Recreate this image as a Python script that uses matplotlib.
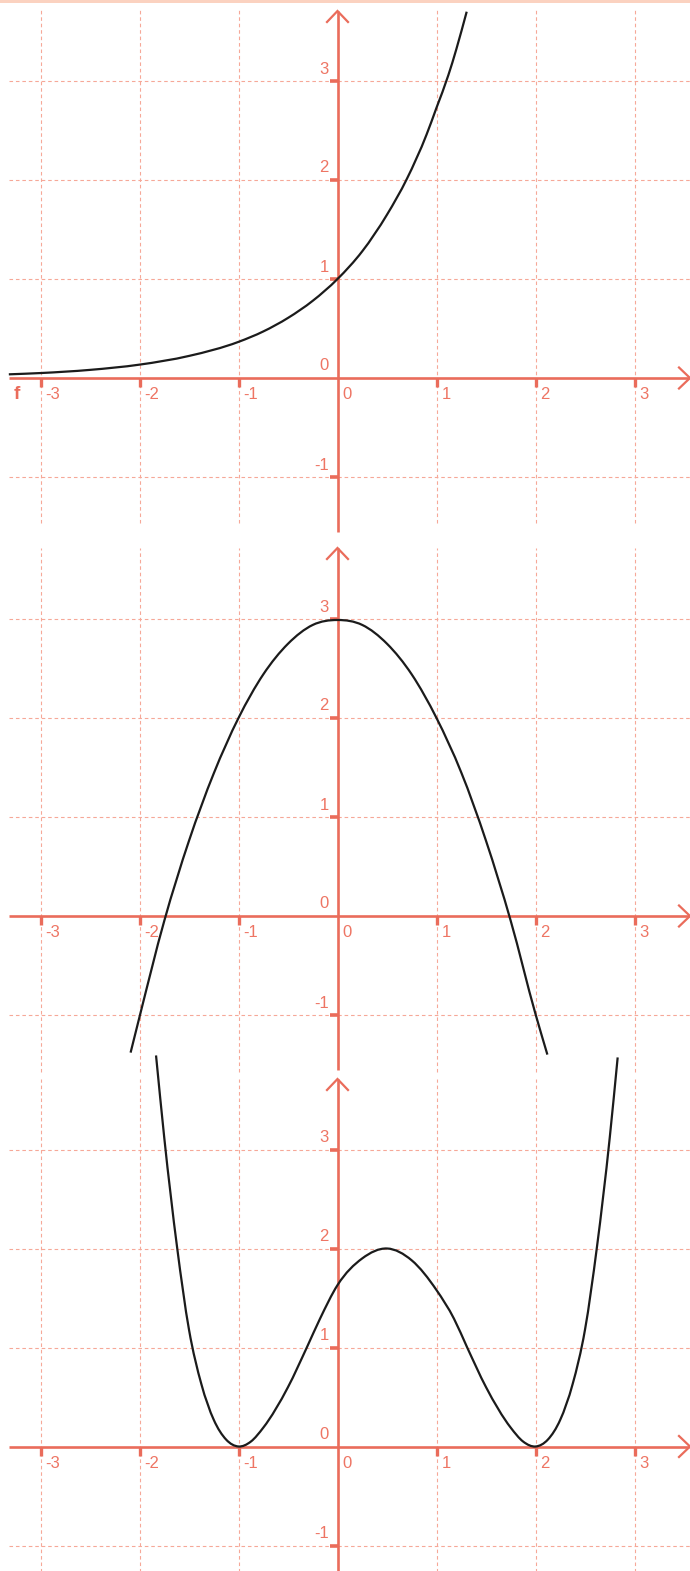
import numpy as np
import matplotlib
matplotlib.use("Agg")
import matplotlib.pyplot as plt
from matplotlib.path import Path
from matplotlib.patches import PathPatch, Rectangle

# ---------------- data ----------------
ticks_x = [-3, -2, -1, 0, 1, 2, 3]
ticks_y = [-1, 0, 1, 2, 3]
tick_labels_x = ["-3", "-2", "-1", "0", "1", "2", "3"]
tick_labels_y = ["-1", "0", "1", "2", "3"]

f1_x = [-3.32, -3.0, -2.5, -2.0, -1.5, -1.0, -0.75, -0.5, -0.25, 0.0, 0.25, 0.5, 0.7, 0.9, 1.0, 1.12, 1.2, 1.305]
f1_y = [0.037, 0.05, 0.082, 0.135, 0.223, 0.365, 0.47, 0.607, 0.78, 1.0, 1.28, 1.65, 2.01, 2.46, 2.73, 3.06, 3.32, 3.70]

f2_x = [-2.09, -2.0, -1.75, -1.5, -1.25, -1.0, -0.75, -0.5, -0.25, 0.0, 0.25, 0.5, 0.75, 1.0, 1.25, 1.5, 1.75, 2.0, 2.12]
f2_y = [-1.38, -1.02, -0.05, 0.76, 1.44, 2.0, 2.44, 2.75, 2.94, 2.99, 2.94, 2.75, 2.44, 2.0, 1.45, 0.76, -0.05, -0.99, -1.40]

f3_x = [-1.833, -1.75, -1.62, -1.5, -1.375, -1.25, -1.125, -1.0, -0.875, -0.75, -0.5, -0.31, -0.177, 0.0, 0.25,
        0.5, 0.75, 1.0, 1.177, 1.31, 1.5, 1.75, 1.875, 2.0, 2.125, 2.25, 2.375, 2.5, 2.62, 2.75, 2.83]
f3_y = [3.95, 3.12, 2.01, 1.18, 0.63, 0.27, 0.07, 0.0, 0.05, 0.19, 0.60, 1.0, 1.29, 1.63, 1.90,
        2.0, 1.88, 1.58, 1.29, 1.0, 0.60, 0.19, 0.05, 0.0, 0.07, 0.27, 0.63, 1.18, 2.01, 3.12, 3.93]

curve_label = "f"

# ---------------- layout / style ----------------
W, H = 690, 1571
S = 99.0          # pixels per unit
X0 = 337.5        # pixel column of x = 0
AX_C = "#ea6c5b"
LBL_C = "#ee7564"
GRID_C = "#f6a898"
CURVE_C = "#1b1b1b"
FONT = "Liberation Sans"

fig = plt.figure(figsize=(W / 100, H / 100), dpi=100)


def smooth_path(xs, ys):
    """Cubic Hermite (in x) through the read points, as Bezier segments."""
    x = np.asarray(xs, float)
    y = np.asarray(ys, float)
    n = len(x)
    m = np.zeros(n)
    m[0] = (y[1] - y[0]) / (x[1] - x[0])
    m[-1] = (y[-1] - y[-2]) / (x[-1] - x[-2])
    for i in range(1, n - 1):
        d0 = (y[i] - y[i - 1]) / (x[i] - x[i - 1])
        d1 = (y[i + 1] - y[i]) / (x[i + 1] - x[i])
        h0 = x[i] - x[i - 1]
        h1 = x[i + 1] - x[i]
        m[i] = (d0 * h1 + d1 * h0) / (h0 + h1)
    verts = [(x[0], y[0])]
    codes = [Path.MOVETO]
    for i in range(n - 1):
        h = x[i + 1] - x[i]
        verts += [(x[i] + h / 3, y[i] + m[i] * h / 3),
                  (x[i + 1] - h / 3, y[i + 1] - m[i + 1] * h / 3),
                  (x[i + 1], y[i + 1])]
        codes += [Path.CURVE4] * 3
    return Path(verts, codes)


def panel(top, bottom, y0, grid_top, grid_bot, axis_top, axis_bot, xs, ys, label=None):
    ax = fig.add_axes([0, 1 - bottom / H, 1, (bottom - top) / H])
    ax.set_xlim(-X0 / S, (W - X0) / S)
    ax.set_ylim((y0 - bottom) / S, (y0 - top) / S)
    ax.axis("off")
    gy_top = (y0 - grid_top) / S
    gy_bot = (y0 - grid_bot) / S
    ay_top = (y0 - axis_top) / S
    ay_bot = (y0 - axis_bot) / S
    x_left = (9 - X0) / S
    x_right = (W - X0) / S
    ls = (0, (3.2, 2.6))
    for tk in ticks_x:
        if tk != 0:
            ax.plot([tk, tk], [gy_bot, gy_top], color=GRID_C, lw=0.8, ls=ls, zorder=1)
    for tk in ticks_y:
        if tk != 0:
            ax.plot([x_left, x_right], [tk, tk], color=GRID_C, lw=0.8, ls=ls, zorder=1)
    # axes lines
    ax.plot([x_left, x_right - 1 / S], [0, 0], color=AX_C, lw=1.9, zorder=3,
            solid_capstyle="butt")
    ax.plot([0, 0], [ay_bot, ay_top], color=AX_C, lw=1.9, zorder=3,
            solid_capstyle="butt")
    # arrow heads (open chevrons)
    ah = 10.5 / S
    ax.plot([-ah, 0, ah], [ay_top - 11 / S, ay_top, ay_top - 11 / S], color=AX_C, lw=1.6,
            zorder=3, solid_joinstyle="miter", clip_on=False)
    ax.plot([x_right - 11 / S, x_right, x_right - 11 / S], [ah, 0, -ah], color=AX_C, lw=1.6,
            zorder=3, solid_joinstyle="miter", clip_on=False)
    # tick marks
    for tk in ticks_x:
        if tk != 0:
            ax.plot([tk, tk], [0, -9 / S], color=AX_C, lw=2.4, zorder=3, solid_capstyle="butt")
    for tk in ticks_y:
        if tk != 0:
            ax.plot([-8 / S, 0], [tk, tk], color=AX_C, lw=2.6, zorder=3, solid_capstyle="butt")
    # tick labels
    for tk, s in zip(ticks_x, tick_labels_x):
        ax.text(tk + 5.0 / S, -16.5 / S, s, color=LBL_C, fontsize=12, family=FONT,
                ha="left", va="center", zorder=4)
    for tk, s in zip(ticks_y, tick_labels_y):
        ax.text(-8.5 / S, tk + 12.0 / S, s, color=LBL_C, fontsize=12, family=FONT,
                ha="right", va="center", zorder=4)
    if label:
        ax.text((16.5 - X0) / S, -16.5 / S, label, color=AX_C, fontsize=13.5, family=FONT,
                fontweight="bold", ha="center", va="center", zorder=4)
    patch = PathPatch(smooth_path(xs, ys), facecolor="none", edgecolor=CURVE_C, lw=1.6,
                      zorder=5, clip_on=False, capstyle="butt")
    ax.add_patch(patch)
    return ax


panel(0, 536, 378.0, 9, 523, 11, 532, f1_x, f1_y, label=curve_label)
panel(536, 1074, 916.0, 548, 1072, 548, 1070, f2_x, f2_y)
panel(1074, 1571, 1446.5, 1079, 1575, 1079, 1575, f3_x, f3_y)

fig.add_artist(Rectangle((0, 1 - 2.5 / H), 1, 2.5 / H, transform=fig.transFigure,
                         facecolor="#fbd2c0", edgecolor="none", zorder=10))

fig.savefig("out.png", dpi=100)
